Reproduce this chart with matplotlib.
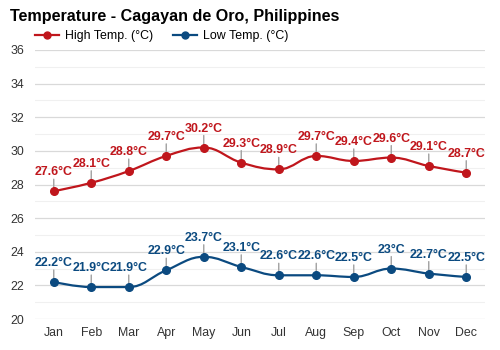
import matplotlib
matplotlib.use("Agg")
import matplotlib.pyplot as plt
from matplotlib.path import Path
from matplotlib.patches import PathPatch
from matplotlib.lines import Line2D
import numpy as np

plt.rcParams['font.family'] = ['Liberation Sans', 'DejaVu Sans']

months = ["Jan", "Feb", "Mar", "Apr", "May", "Jun", "Jul", "Aug", "Sep", "Oct", "Nov", "Dec"]
high_temp = [27.6, 28.1, 28.8, 29.7, 30.2, 29.3, 28.9, 29.7, 29.4, 29.6, 29.1, 28.7]
low_temp = [22.2, 21.9, 21.9, 22.9, 23.7, 23.1, 22.6, 22.6, 22.5, 23.0, 22.7, 22.5]
high_labels = ["27.6°C", "28.1°C", "28.8°C", "29.7°C", "30.2°C", "29.3°C", "28.9°C", "29.7°C", "29.4°C", "29.6°C", "29.1°C", "28.7°C"]
low_labels = ["22.2°C", "21.9°C", "21.9°C", "22.9°C", "23.7°C", "23.1°C", "22.6°C", "22.6°C", "22.5°C", "23°C", "22.7°C", "22.5°C"]
series_names = ["High Temp. (°C)", "Low Temp. (°C)"]

RED = "#c0161c"
BLUE = "#0b4a80"


def spline_path(xs, ys, smoothing=1.5):
    n = len(xs)
    denom = smoothing + 1
    lc = [None] * n
    rc = [None] * n
    for i in range(n):
        x, y = xs[i], ys[i]
        if 0 < i < n - 1:
            lx, ly = xs[i - 1], ys[i - 1]
            nx, ny = xs[i + 1], ys[i + 1]
            lcx = (smoothing * x + lx) / denom
            lcy = (smoothing * y + ly) / denom
            rcx = (smoothing * x + nx) / denom
            rcy = (smoothing * y + ny) / denom
            corr = 0
            if rcx != lcx:
                corr = ((rcy - lcy) * (rcx - x)) / (rcx - lcx) + y - rcy
            lcy += corr
            rcy += corr
            if lcy > ly and lcy > y:
                lcy = max(ly, y)
                rcy = 2 * y - lcy
            elif lcy < ly and lcy < y:
                lcy = min(ly, y)
                rcy = 2 * y - lcy
            if rcy > ny and rcy > y:
                rcy = max(ny, y)
                lcy = 2 * y - rcy
            elif rcy < ny and rcy < y:
                rcy = min(ny, y)
                lcy = 2 * y - rcy
            lc[i] = (lcx, lcy)
            rc[i] = (rcx, rcy)
        else:
            lc[i] = (x, y)
            rc[i] = (x, y)
    verts = [(xs[0], ys[0])]
    codes = [Path.MOVETO]
    for i in range(1, n):
        verts += [rc[i - 1], lc[i], (xs[i], ys[i])]
        codes += [Path.CURVE4] * 3
    return Path(verts, codes)


fig = plt.figure(figsize=(5, 3.5), dpi=100)
ax = fig.add_axes([0.07, 1 - 319 / 350, 0.9, (319 - 50) / 350])

ax.set_xlim(-0.5, 11.5)
ax.set_ylim(20, 36)

for v in range(21, 36, 2):
    ax.axhline(v, color="#f0f0f0", lw=0.8, zorder=0)
for v in range(20, 37, 2):
    ax.axhline(v, color="#d9d9d9", lw=0.9, zorder=0.5)

x = np.arange(len(months))
px = 0.72  # points per pixel

for vals, labels, col in [(high_temp, high_labels, RED), (low_temp, low_labels, BLUE)]:
    p = spline_path(list(x.astype(float)), list(vals))
    ax.add_patch(PathPatch(p, facecolor="none", edgecolor=col, lw=1.6, zorder=3))
    ax.plot(x, vals, "o", color=col, ms=5.5, zorder=4, clip_on=False)
    for xi, yi, lab in zip(x, vals, labels):
        ax.annotate("", xy=(xi, yi), xytext=(0, 12 * px), textcoords="offset points",
                    arrowprops=dict(arrowstyle="-", color="#a0a0a0", lw=1, shrinkA=0, shrinkB=0),
                    zorder=2)
        ax.annotate(lab, xy=(xi, yi), xytext=(0, 16 * px), textcoords="offset points",
                    ha="center", va="baseline", color=col, fontsize=8.9, fontweight="bold",
                    zorder=5, annotation_clip=False)

ax.set_xticks(x)
ax.set_xticklabels(months)
ax.set_yticks(range(20, 37, 2))
ax.tick_params(axis="both", length=0, labelsize=8.9, colors="#333333")
ax.tick_params(axis="x", pad=6)
ax.tick_params(axis="y", pad=8)
for s in ax.spines.values():
    s.set_visible(False)

fig.text(10 / 500, 1 - 16 / 350, "Temperature - Cagayan de Oro, Philippines",
         fontsize=11.6, fontweight="bold", color="#000000", va="center", ha="left")

handles = [Line2D([0], [0], color=RED, lw=1.6, marker="o", ms=5),
           Line2D([0], [0], color=BLUE, lw=1.6, marker="o", ms=5)]
fig.legend(handles, series_names, loc="center left", bbox_to_anchor=(35 / 500, 1 - 36 / 350),
           ncol=2, frameon=False, fontsize=8.9, handlelength=1.95, handletextpad=0.5,
           columnspacing=1.55, borderaxespad=0, borderpad=0)

fig.savefig("out.png", dpi=100, facecolor="white")
